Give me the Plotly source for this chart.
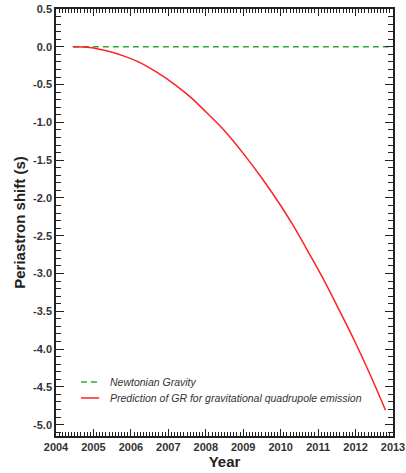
import plotly.graph_objects as go

years = [2004.45, 2004.9, 2005.4, 2005.8, 2006.2, 2006.7, 2007.2, 2007.6, 2008.0, 2008.5,
         2009.0, 2009.5, 2010.0, 2010.4, 2010.8, 2011.2, 2011.6, 2012.0, 2012.4, 2012.8]
gr_shift = [0.0, -0.01, -0.06, -0.12, -0.20, -0.34, -0.51, -0.67, -0.86, -1.11,
            -1.41, -1.74, -2.10, -2.42, -2.77, -3.13, -3.52, -3.92, -4.35, -4.81]
newton_years = [2004.45, 2013.0]
newton_shift = [0.0, 0.0]

ytick_vals = [0.5, 0.0, -0.5, -1.0, -1.5, -2.0, -2.5, -3.0, -3.5, -4.0, -4.5, -5.0]
ytick_text = ["0.5", "0.0", "-0.5", "-1.0", "-1.5", "-2.0", "-2.5", "-3.0", "-3.5", "-4.0", "-4.5", "-5.0"]
xtick_vals = list(range(2004, 2014))
xtick_text = [str(v) for v in xtick_vals]

names = ["Newtonian Gravity", "Prediction of GR for gravitational quadrupole emission"]
colors = ["#2eaa2e", "#ff2020"]
dashes = ["6px,4px", "solid"]

fig = go.Figure()
fig.add_trace(go.Scatter(x=newton_years, y=newton_shift, mode="lines", name=names[0],
                         line=dict(color=colors[0], width=1.5, dash=dashes[0])))
fig.add_trace(go.Scatter(x=years, y=gr_shift, mode="lines", line_shape="spline", name=names[1],
                         line=dict(color=colors[1], width=1.5)))

# manual legend (sample line + italic label)
leg_y = [0.1265, 0.089]
for i in range(2):
    fig.add_shape(type="line", xref="paper", yref="paper", x0=0.074, x1=0.128, y0=leg_y[i], y1=leg_y[i],
                  line=dict(color=colors[i], width=1.5, dash=dashes[i]))
    fig.add_annotation(xref="paper", yref="paper", x=0.154, y=leg_y[i], xanchor="left", yanchor="middle",
                       text=names[i], showarrow=False,
                       font=dict(family="Liberation Sans, Arial", size=10.5, color="#333", style="italic"))

tickfont = dict(family="Liberation Sans, Arial", size=11, color="#333", weight="bold")
fig.update_layout(
    width=406, height=473,
    margin=dict(l=56, r=13, t=9, b=37, autoexpand=False),
    paper_bgcolor="white", plot_bgcolor="white",
    showlegend=False,
    xaxis=dict(range=[2004, 2013], tickvals=xtick_vals, ticktext=xtick_text, automargin=False,
               ticks="inside", ticklen=7, tickwidth=1, tickcolor="#222",
               showline=True, linecolor="#222", linewidth=1.5, mirror="allticks",
               showgrid=False, zeroline=False, tickfont=tickfont,
               minor=dict(ticks="inside", dtick=1/12, ticklen=4, tickcolor="#222", showgrid=False),
               title=dict(text="Year", font=dict(family="Liberation Sans, Arial", size=15, color="#222", weight="bold"),
                          standoff=2)),
    yaxis=dict(range=[-5.15, 0.5], tickvals=ytick_vals, ticktext=ytick_text, automargin=False,
               ticks="inside", ticklen=8, tickwidth=1, tickcolor="#222",
               showline=True, linecolor="#222", linewidth=1.5, mirror="allticks",
               showgrid=False, zeroline=False, tickfont=tickfont,
               minor=dict(ticks="inside", dtick=0.1, ticklen=5, tickcolor="#222", showgrid=False),
               title=dict(text="Periastron shift (s)", font=dict(family="Liberation Sans, Arial", size=15, color="#222", weight="bold"),
                          standoff=4)),
)
fig.write_html("out.html", config={"displayModeBar": False},
               post_script="document.body.style.margin='0';")
